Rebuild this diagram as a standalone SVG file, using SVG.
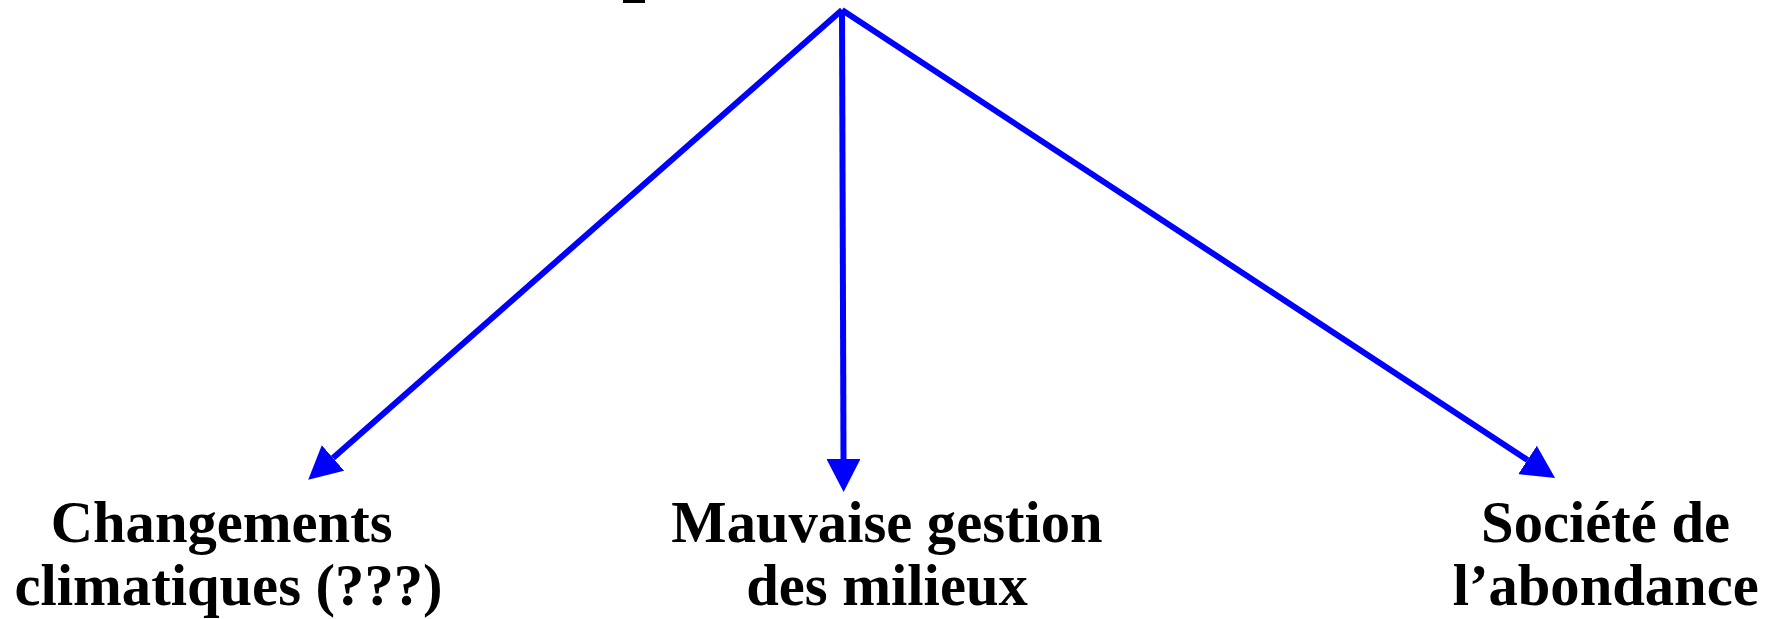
<svg xmlns="http://www.w3.org/2000/svg" width="1773" height="619" viewBox="0 0 1773 619">
  <style>
    .lbl { font-family: "Liberation Serif", "Times New Roman", serif; font-weight: bold; font-size: 58.6px; fill: #000; text-anchor: middle; }
    .conn { stroke: #0000ff; stroke-width: 6; fill: none; marker-end: url(#arr); }
  </style>
  <defs>
    <marker id="arr" markerUnits="userSpaceOnUse" markerWidth="34" markerHeight="34" refX="0" refY="17" orient="auto" viewBox="0 0 34 34">
      <path d="M0,0 L33,17 L0,34 Z" fill="#0000ff"/>
    </marker>
  </defs>
  <rect width="1773" height="619" fill="#ffffff"/>
  <rect x="623" y="0" width="22" height="3" fill="#000000"/>
  <g id="connectors">
    <line class="conn" x1="842" y1="10" x2="333" y2="458"/>
    <line class="conn" x1="842" y1="10" x2="843.5" y2="459"/>
    <line class="conn" x1="842" y1="10" x2="1527.5" y2="460"/>
  </g>
  <g id="node-changements">
    <text class="lbl" x="221.6" y="542">Changements</text>
    <text class="lbl" x="228.5" y="605">climatiques (???)</text>
  </g>
  <g id="node-mauvaise">
    <text class="lbl" x="887" y="542">Mauvaise gestion</text>
    <text class="lbl" x="887" y="605">des milieux</text>
  </g>
  <g id="node-societe">
    <text class="lbl" x="1605.6" y="542">Société de</text>
    <text class="lbl" x="1605.7" y="605">l’abondance</text>
  </g>
</svg>
